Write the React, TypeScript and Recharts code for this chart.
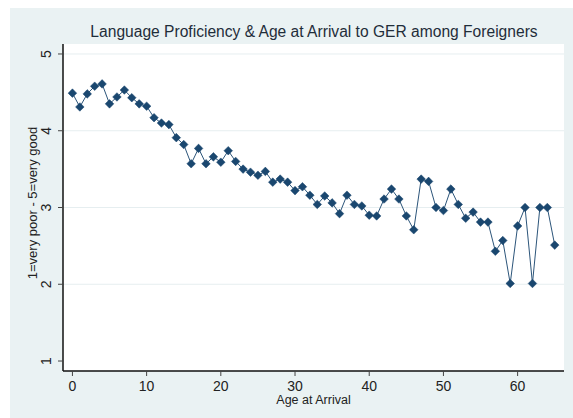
import { LineChart, Line, XAxis, YAxis, ReferenceLine } from 'recharts';

const ages = [
  0, 1, 2, 3, 4, 5, 6, 7, 8, 9, 10, 11, 12, 13, 14, 15, 16, 17, 18, 19, 20, 21,
  22, 23, 24, 25, 26, 27, 28, 29, 30, 31, 32, 33, 34, 35, 36, 37, 38, 39, 40,
  41, 42, 43, 44, 45, 46, 47, 48, 49, 50, 51, 52, 53, 54, 55, 56, 57, 58, 59,
  60, 61, 62, 63, 64, 65,
];

const proficiency = [
  4.49, 4.31, 4.48, 4.58, 4.61, 4.35, 4.44, 4.53, 4.43, 4.35, 4.32, 4.17, 4.1,
  4.08, 3.91, 3.82, 3.57, 3.77, 3.57, 3.66, 3.59, 3.74, 3.6, 3.5, 3.46, 3.42,
  3.47, 3.33, 3.37, 3.33, 3.22, 3.27, 3.16, 3.04, 3.15, 3.06, 2.92, 3.16, 3.04,
  3.02, 2.9, 2.89, 3.11, 3.24, 3.11, 2.89, 2.71, 3.37, 3.34, 3.0, 2.96, 3.24,
  3.04, 2.86, 2.94, 2.81, 2.81, 2.43, 2.57, 2.01, 2.76, 3.0, 2.01, 3.0, 3.0,
  2.51,
];

const xTicks = [0, 10, 20, 30, 40, 50, 60];
const yTicks = [1, 2, 3, 4, 5];
const gridLevels = [2, 3, 4, 5];

const chartData = ages.map((age, i) => ({ age, value: proficiency[i] }));

const NAVY = '#1a476f';
const FONT = 'Arial, "Liberation Sans", sans-serif';

const Diamond = ({ cx, cy }: any) => {
  if (cx == null || cy == null) return null;
  const r = 4.3;
  return (
    <polygon
      points={`${cx},${cy - r} ${cx + r},${cy} ${cx},${cy + r} ${cx - r},${cy}`}
      fill={NAVY}
      stroke={NAVY}
      strokeWidth={0.5}
    />
  );
};

const YTick = ({ y, payload }: any) => (
  <text
    x={46}
    y={y}
    transform={`rotate(-90, 46, ${y})`}
    textAnchor="middle"
    dominantBaseline="central"
    fontSize={14}
    fontFamily={FONT}
    fill="#222"
  >
    {payload.value}
  </text>
);

const XTick = ({ x, payload }: any) => (
  <text x={x} y={391} textAnchor="middle" fontSize={14} fontFamily={FONT} fill="#222">
    {payload.value}
  </text>
);

export default function App() {
  return (
    <div style={{ position: 'absolute', left: 0, top: 0, width: 573, height: 418, overflow: 'hidden' }}>
      <div style={{ position: 'absolute', left: 10, top: 8, width: 563, height: 410, background: '#eaf2f3' }} />
      <div style={{ position: 'absolute', left: 63, top: 44, width: 501, height: 327, background: '#ffffff' }} />
      <div
        style={{
          position: 'absolute',
          left: 0,
          width: 628,
          top: 23,
          textAlign: 'center',
          fontFamily: FONT,
          fontSize: 15.6,
          color: '#1f2d3a',
          whiteSpace: 'nowrap',
        }}
      >
        Language Proficiency &amp; Age at Arrival to GER among Foreigners
      </div>
      <div
        style={{
          position: 'absolute',
          left: 32,
          top: 203,
          transform: 'translate(-50%, -50%) rotate(-90deg)',
          fontFamily: FONT,
          fontSize: 13,
          lineHeight: '13px',
          color: '#222',
          whiteSpace: 'nowrap',
        }}
      >
        1=very poor - 5=very good
      </div>
      <div
        style={{
          position: 'absolute',
          left: 0,
          width: 627,
          top: 394,
          textAlign: 'center',
          fontFamily: FONT,
          fontSize: 12.5,
          lineHeight: '12.5px',
          color: '#222',
          whiteSpace: 'nowrap',
        }}
      >
        Age at Arrival
      </div>
      <div style={{ position: 'absolute', left: 0, top: 0 }}>
        <LineChart
          width={573}
          height={418}
          data={chartData}
          margin={{ top: 44, right: 9, bottom: 0, left: 0 }}
        >
          <XAxis
            dataKey="age"
            type="number"
            domain={[-1.27, 66.25]}
            ticks={xTicks}
            allowDataOverflow
            height={47}
            axisLine={{ stroke: '#111', strokeWidth: 1.5 }}
            tickLine={{ stroke: '#444' }}
            tickSize={5}
            tick={<XTick />}
            interval={0}
          />
          <YAxis
            type="number"
            domain={[0.87, 5.13]}
            ticks={yTicks}
            allowDataOverflow
            width={63}
            axisLine={{ stroke: '#111', strokeWidth: 1.5 }}
            tickLine={{ stroke: '#444' }}
            tickSize={5}
            tick={<YTick />}
            interval={0}
          />
          {gridLevels.map((g) => (
            <ReferenceLine key={g} y={g} stroke="#e6eef0" strokeWidth={1} />
          ))}
          <Line
            type="linear"
            dataKey="value"
            stroke="#2c557a"
            strokeWidth={1}
            dot={<Diamond />}
            activeDot={false}
            isAnimationActive={false}
          />
        </LineChart>
      </div>
    </div>
  );
}
